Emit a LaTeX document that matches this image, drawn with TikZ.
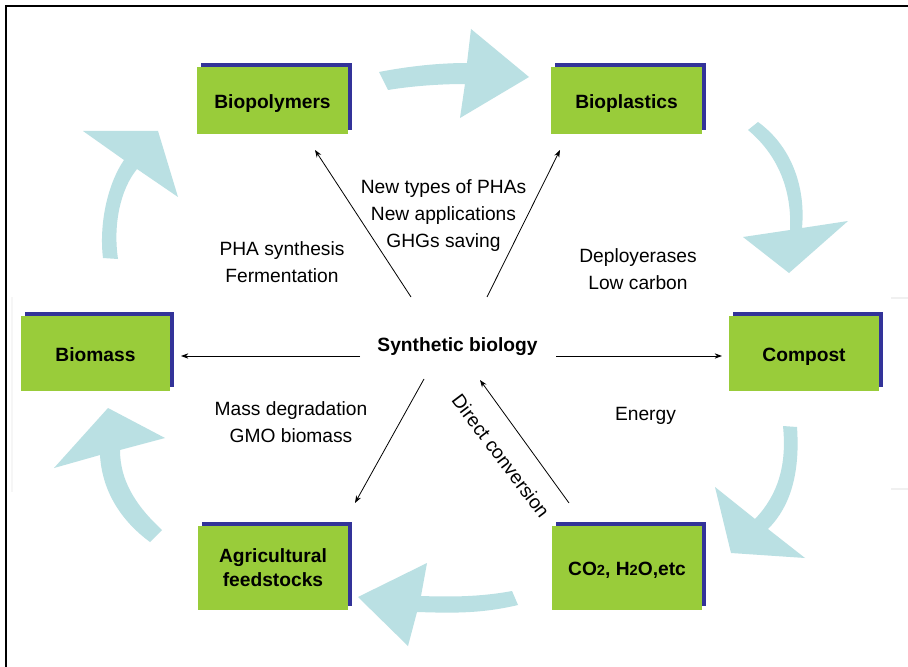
\documentclass[tikz,border=0pt]{standalone}
\usepackage{fontspec}
\setmainfont{Liberation Sans}
\usetikzlibrary{arrows.meta,shadows}
\definecolor{boxgreen}{RGB}{153,204,58}
\definecolor{shadowblue}{RGB}{51,51,153}
\definecolor{cyclecol}{RGB}{186,224,227}
\begin{document}
\begin{tikzpicture}[x=0.75pt,y=-0.75pt,
  box/.style={fill=boxgreen, draw=none, font=\bfseries\fontsize{14.4pt}{18pt}\selectfont, align=center, inner sep=0pt,
    drop shadow={shadow xshift=3pt, shadow yshift=3pt, fill=shadowblue, opacity=1}},
  onel/.style={text height=14.5pt, text depth=3pt},
  lbl/.style={font=\fontsize{14.4pt}{20.25pt}\selectfont, align=center, inner sep=0pt},
  conn/.style={line width=0.6pt, -{Stealth[length=5.5pt,width=4pt]}},
  cyc/.style={fill=cyclecol, draw=none}]
\useasboundingbox (0,0) rectangle (908,667);
\fill[white] (0,0) rectangle (908,667);
% frame
\draw[line width=1.5pt] (6,667) -- (6,6) -- (908,6);
\draw[gray!12, line width=1.5pt] (891,298) -- (908,298) (891,489) -- (908,489);
\draw[gray!7, line width=1pt] (12,297) -- (12,492);

% cycle arrows
\path[cyc] (379,72) .. controls (410,66) and (440,63) .. (467,63) -- (471,29) -- (529,77) -- (460,118) -- (465,84)
   .. controls (440,84) and (412,86) .. (388,90) -- cycle;
\path[cyc] (748,130) -- (758,122) .. controls (790,145) and (806,185) .. (802,228) -- (848,221) -- (789,273) -- (743,237)
   -- (790,230) .. controls (792,190) and (778,155) .. (748,130) -- cycle;
\path[cyc] (783,426) -- (797,427) .. controls (800,470) and (792,505) .. (768,529) -- (805,558) -- (731,553) -- (715,487)
   -- (755,519) .. controls (778,495) and (787,465) .. (783,426) -- cycle;
\path[cyc] (518,605) .. controls (480,614) and (450,613) .. (417,612) -- (408,646) -- (358,597) -- (427,563) -- (421,596)
   .. controls (450,597) and (480,597) .. (512,591) -- cycle;
\path[cyc] (162,530) .. controls (135,505) and (120,480) .. (120,450) -- (165,438) -- (108,408) -- (54,468) -- (100,455)
   .. controls (102,490) and (120,520) .. (150,542) -- cycle;
\path[cyc] (103,258) .. controls (99,225) and (107,185) .. (124,160) -- (83,131) -- (158,131) -- (178,197) -- (137,169)
   .. controls (120,190) and (113,225) .. (118,259) -- cycle;

% boxes
\node[box, onel, minimum width=113.25pt, minimum height=50.25pt] (biopoly) at (272.5,100.5) {Biopolymers};
\node[box, onel, minimum width=113.25pt, minimum height=50.25pt] (bioplast) at (626.5,100.5) {Bioplastics};
\node[box, onel, minimum width=111.75pt, minimum height=56.25pt] (biomass) at (95.5,353.5) {Biomass};
\node[box, onel, minimum width=112.5pt, minimum height=56.25pt] (compost) at (804,353.5) {Compost};
\node[box, minimum width=112.5pt, minimum height=63pt] (agri) at (273,568) {Agricultural\\feedstocks};
\node[box, onel, minimum width=112.5pt, minimum height=63pt] (co2) at (627,568) {CO{\fontsize{11pt}{12pt}\selectfont 2}, H{\fontsize{11pt}{12pt}\selectfont 2}O,etc};

% centre and labels
\node[lbl, font=\bfseries\fontsize{14.4pt}{18pt}\selectfont] (syn) at (457.5,346.5) {Synthetic biology};
\node[lbl] (l1) at (443.5,216) {New types of PHAs\\New applications\\GHGs saving};
\node[lbl] (l2) at (282,262.5) {PHA synthesis\\Fermentation};
\node[lbl] (l3) at (638,269.5) {Deployerases\\Low carbon};
\node[lbl] (l4) at (291,422) {Mass degradation\\GMO biomass};
\node[lbl] (l5) at (645.5,415.5) {Energy};
\node[lbl, rotate=-53] (l6) at (501,456) {Direct conversion};

% connectors
\coordinate (sW) at (360,356);
\coordinate (bmE) at (181,356);
\coordinate (sE) at (556,356);
\coordinate (cpW) at (722,356);
\coordinate (sNW) at (411,297);
\coordinate (bpS) at (315,150);
\coordinate (sNE) at (487,297);
\coordinate (blS) at (560,150);
\coordinate (sSW) at (424,379);
\coordinate (agN) at (355,503);
\coordinate (coN) at (569,503);
\coordinate (sS) at (480,380);
\draw[conn] (sW) -- (bmE);
\draw[conn] (sE) -- (cpW);
\draw[conn] (sNW) -- (bpS);
\draw[conn] (sNE) -- (blS);
\draw[conn] (sSW) -- (agN);
\draw[conn] (coN) -- (sS);
\end{tikzpicture}
\end{document}
